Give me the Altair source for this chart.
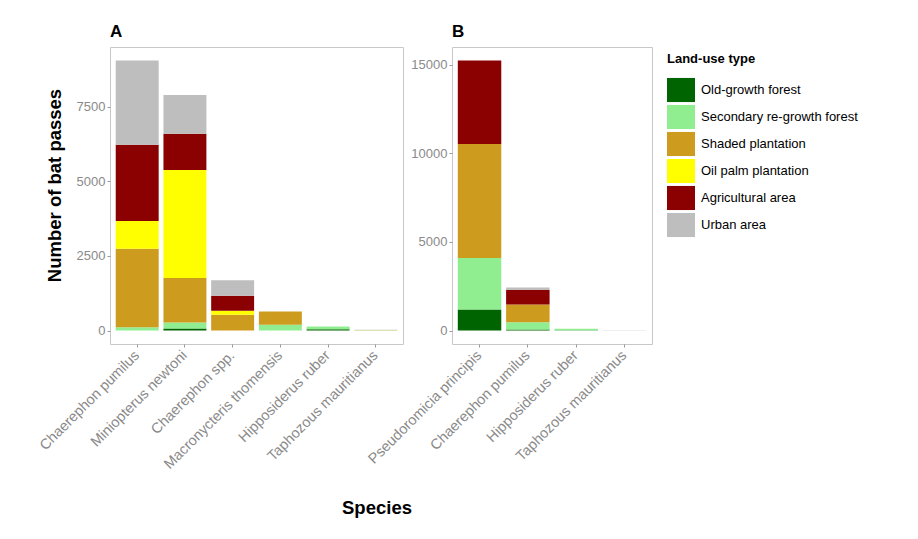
import altair as alt
import pandas as pd

land_use = ["Old-growth forest", "Secondary re-growth forest", "Shaded plantation",
            "Oil palm plantation", "Agricultural area", "Urban area"]
colors = ["#006400", "#90EE90", "#CD9B1D", "#FFFF00", "#8B0000", "#BEBEBE"]

# Panel A
species_a = ["Chaerephon pumilus", "Miniopterus newtoni", "Chaerephon spp.",
             "Macronycteris thomensis", "Hipposiderus ruber", "Taphozous mauritianus"]
a_old = [0, 67, 0, 0, 40, 0]
a_secondary = [110, 200, 0, 190, 95, 5]
a_shaded = [2628, 1493, 528, 450, 0, 15]
a_oilpalm = [929, 3620, 135, 0, 0, 0]
a_agri = [2556, 1211, 504, 0, 0, 0]
a_urban = [2825, 1301, 515, 0, 0, 5]

# Panel B
species_b = ["Pseudoromicia principis", "Chaerephon pumilus", "Hipposiderus ruber",
             "Taphozous mauritianus"]
b_old = [1185, 50, 20, 0]
b_secondary = [2915, 410, 80, 0]
b_shaded = [6430, 1010, 0, 0]
b_oilpalm = [0, 0, 0, 0]
b_agri = [4720, 820, 0, 0]
b_urban = [0, 140, 0, 10]

a_ticks = [0, 2500, 5000, 7500]
b_ticks = [0, 5000, 10000, 15000]


def build(species, series):
    rows = []
    for i, lu in enumerate(land_use):
        for sp, v in zip(species, series[i]):
            rows.append({"species": sp, "land_use": lu, "idx": i, "passes": v})
    return pd.DataFrame(rows)


df_a = build(species_a, [a_old, a_secondary, a_shaded, a_oilpalm, a_agri, a_urban])
df_b = build(species_b, [b_old, b_secondary, b_shaded, b_oilpalm, b_agri, b_urban])

legend = alt.Legend(
    title="Land-use type", orient="right", offset=8, padding=6,
    titleFontSize=13, titleFontWeight="bold", titleColor="black", titlePadding=10,
    labelFontSize=13, labelColor="black", labelOffset=6,
    symbolType="M-1,-0.86L1,-0.86L1,0.86L-1,0.86Z", symbolSize=784,
    symbolStrokeWidth=0, symbolOpacity=1, rowPadding=0, labelLimit=300,
)


def panel(df, species, letter, domain, ticks, width, ytitle):
    if ytitle:
        yaxis = alt.Axis(
            values=ticks, format="d", grid=False, domain=False,
            tickColor="#9a9a9a", tickSize=3, labelFontSize=13, labelColor="#8a8a8a",
            labelPadding=2, title=ytitle, titleY=138,
            titleFontSize=18.5, titleFontWeight="bold", titleColor="black", titlePadding=12,
        )
    else:
        yaxis = alt.Axis(
            values=ticks, format="d", grid=False, domain=False,
            tickColor="#9a9a9a", tickSize=3, labelFontSize=13, labelColor="#8a8a8a",
            labelPadding=2, title=None,
        )
    return alt.Chart(
        df,
        title=alt.TitleParams(letter, anchor="start", frame="group", fontSize=17,
                              fontWeight="bold", color="black", offset=6),
    ).mark_bar(strokeWidth=0).encode(
        x=alt.X("species:N", sort=species,
                scale=alt.Scale(paddingInner=0.1, paddingOuter=0.12),
                axis=alt.Axis(title=None, labelAngle=-45, labelAlign="right",
                              labelBaseline="middle",
                              labelFontSize=14.5, labelColor="#8a8a8a",
                              tickColor="#9a9a9a", tickSize=3, domain=False,
                              labelPadding=6, labelLimit=300)),
        y=alt.Y("passes:Q", stack="zero",
                scale=alt.Scale(domain=domain, nice=False, zero=False),
                axis=yaxis),
        color=alt.Color("land_use:N", scale=alt.Scale(domain=land_use, range=colors),
                        legend=legend),
        order=alt.Order("idx:Q", sort="ascending"),
    ).properties(width=width, height=297)


chart_a = panel(df_a, species_a, "A", [-452, 9500], a_ticks, 293, "Number of bat passes")
chart_b = panel(df_b, species_b, "B", [-762, 16012], b_ticks, 200, None)

chart = alt.hconcat(chart_a, chart_b, spacing=49, bounds="flush").properties(
    title=alt.TitleParams("Species", orient="bottom", anchor="middle", frame="group",
                          fontSize=18.5, fontWeight="bold", color="black", offset=28,
                          dx=267),
    padding={"left": 27, "top": 14, "right": 5, "bottom": 5},
).configure(font="Liberation Sans").configure_view(
    stroke="#c8c8c8", strokeWidth=1
)

chart.save("out.html", embed_options={"renderer": "svg", "actions": False})
